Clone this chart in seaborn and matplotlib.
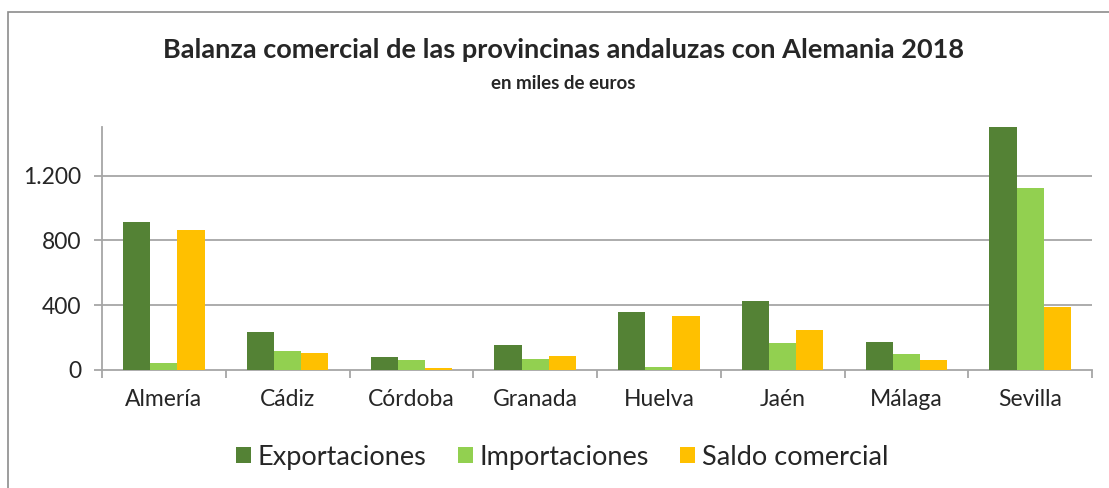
import matplotlib
matplotlib.use("Agg")
import matplotlib.pyplot as plt
import matplotlib.ticker as mticker
from matplotlib.patches import Rectangle
import pandas as pd
import seaborn as sns

# Data (miles de euros)
provincias = ["Almería", "Cádiz", "Córdoba", "Granada", "Huelva", "Jaén", "Málaga", "Sevilla"]
exportaciones = [911, 232, 78, 152, 357, 423, 170, 1520]
importaciones = [41, 119, 62, 65, 16, 164, 100, 1126]
saldo = [866, 107, 10, 84, 332, 248, 60, 390]
series = ["Exportaciones", "Importaciones", "Saldo comercial"]
colores = ["#548235", "#92D050", "#FFC000"]
yticks = [0, 400, 800, 1200]

df = pd.DataFrame({
    "provincia": provincias * 3,
    "serie": [series[0]] * 8 + [series[1]] * 8 + [series[2]] * 8,
    "valor": exportaciones + importaciones + saldo,
})

sns.set_style("white")
plt.rcParams["font.family"] = ["Lato", "DejaVu Sans"]
grey = "#A6A6A6"

fig = plt.figure(figsize=(11.09, 4.88), dpi=100)
ax = fig.add_axes([102 / 1109, 1 - 370 / 488, 990 / 1109, 243 / 488])

sns.barplot(data=df, x="provincia", y="valor", hue="serie", palette=colores,
            width=0.66, gap=0, saturation=1, linewidth=0, ax=ax, zorder=3)

ax.set_ylim(0, 1500)
ax.set_xlim(-0.5, 7.5)
ax.set_yticks(yticks)
ax.yaxis.set_major_formatter(mticker.FuncFormatter(lambda v, p: f"{int(v):,}".replace(",", ".")))
ax.set_xlabel("")
ax.set_ylabel("")
for y in yticks[1:]:
    ax.axhline(y, color=grey, lw=1.3, zorder=1)

for s in ["top", "right"]:
    ax.spines[s].set_visible(False)
for s in ["left", "bottom"]:
    ax.spines[s].set_color(grey)
    ax.spines[s].set_linewidth(1.3)

ax.tick_params(axis="y", length=6, width=1.3, color=grey, pad=9, labelsize=16.5, left=True)
ax.tick_params(axis="x", which="major", length=0, pad=14, labelsize=16.5)
ax.set_xticks([i - 0.5 for i in range(9)], minor=True)
ax.tick_params(axis="x", which="minor", length=6, width=1.3, color=grey, bottom=True)

handles, labels = ax.get_legend_handles_labels()
ax.legend_.remove()
fig.legend(handles, labels, loc="center", bbox_to_anchor=(0.507, 0.063), ncol=3,
           frameon=False, fontsize=19.5, handlelength=0.55, handleheight=0.55,
           handletextpad=0.25, columnspacing=1.15)

fig.text(0.508, 0.897, "Balanza comercial de las provincinas andaluzas con Alemania 2018",
         ha="center", va="center", fontsize=19.5, fontweight="bold")
fig.text(0.508, 0.828, "en miles de euros", ha="center", va="center",
         fontsize=13.5, fontweight="bold")

fig.patches.append(Rectangle((8 / 1109, -0.1), 1.2, 0.1 + 1 - 12 / 488,
                             transform=fig.transFigure, fill=False,
                             edgecolor="#8C8C8C", lw=1.2))

fig.savefig("out.png", dpi=100)
